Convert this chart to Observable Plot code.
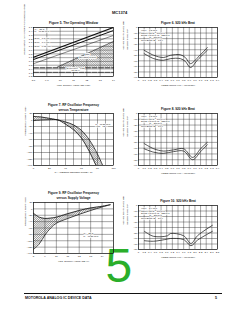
<!DOCTYPE html>
<html><head><meta charset="utf-8">
<script src="https://cdn.jsdelivr.net/npm/d3@7"></script>
<script src="https://cdn.jsdelivr.net/npm/@observablehq/plot@0.6"></script>
<style>
html,body{margin:0;padding:0;background:#fff;}
#page{position:relative;width:240px;height:310px;overflow:hidden;background:#fff;font-family:"Liberation Sans",Arial,sans-serif;color:#111;}
.t{position:absolute;white-space:nowrap;}
</style></head><body>
<div id="page">
  <div class="t" style="left:112px;top:9.5px;font-size:4px;font-weight:bold;">MC1374</div>
  <div class="t" style="left:105.5px;top:241.5px;font-size:48px;font-weight:normal;color:#2aae2a;line-height:48px;">5</div>
  <div style="position:absolute;left:24px;top:292.5px;width:198px;height:0.8px;background:#111;"></div>
  <div class="t" style="left:25px;top:295.5px;font-size:3.6px;font-weight:bold;">MOTOROLA ANALOG IC DEVICE DATA</div>
  <div class="t" style="left:215px;top:295.5px;font-size:3.6px;font-weight:bold;">5</div>
</div>
<svg width="0" height="0" style="position:absolute;left:0;top:0">
  <defs>
    <pattern id="hatch" patternUnits="userSpaceOnUse" width="1.5" height="1.5" patternTransform="rotate(45)">
      <line x1="0.4" y1="0" x2="0.4" y2="1.5" stroke="#333" stroke-width="0.4"/>
    </pattern>
    <pattern id="hatch2" patternUnits="userSpaceOnUse" width="1.3" height="1.3" patternTransform="rotate(-45)">
      <line x1="0.4" y1="0" x2="0.4" y2="1.3" stroke="#555" stroke-width="0.35"/>
    </pattern>
  </defs>
</svg>
<script>
// ---------- Figure 5: The Operating Window ----------
const fig5XTicks = [8, 9, 10, 11, 12, 13, 14];
const fig5XLabels = ["8.0", "9.0", "10", "11", "12", "13", "14"];
const fig5YTicks = [0.2, 0.3, 0.4, 0.5, 0.6, 0.7, 0.8, 0.9, 1.0, 1.1, 1.2, 1.3, 1.4, 1.5];
const fig5YLabels = ["0.2", "0.3", "0.4", "0.5", "0.6", "0.7", "0.8", "0.9", "1.0", "1.1", "1.2", "1.3", "1.4", "1.5"];
const fig5Vcc = [8, 14];
const fig5Line1 = [0.71, 1.5];
const fig5Line2 = [0.65, 1.42];
const fig5Line3 = [0.54, 1.29];
const fig5HatchVcc = [9.8, 14];
const fig5HatchTop = [0.45, 1.13];
const fig5HatchBottom = [0.43, 0.43];
const fig5SyncVcc = [8, 14];
const fig5Sync1 = [0.43, 0.43];
const fig5Sync2 = [0.31, 0.31];

// ---------- Beat charts shared ticks ----------
const beatXTicks = [0, 0.1, 0.2, 0.3, 0.4, 0.5, 0.6, 0.7, 0.8, 0.9, 1.0, 1.1, 1.2, 1.3, 1.4];
const beatXLabels = ["0", "0.1", "0.2", "0.3", "0.4", "0.5", "0.6", "0.7", "0.8", "0.9", "1.0", "1.1", "1.2", "1.3", "1.4"];
const beatYTicks = [0, -10, -20, -30, -40, -50, -60, -70, -80, -90];
const beatYLabels = ["0", "–10", "–20", "–30", "–40", "–50", "–60", "–70", "–80", "–90"];

// ---------- Figure 6: 920 kHz Beat ----------
const fig6X = [0.1, 0.27, 0.44, 0.57, 0.74, 0.83, 0.92, 1.05, 1.22];
const fig6Upper = [-41, -50, -54, -50, -49, -54, -65, -54, -36];
const fig6Lower = [-47, -56, -59, -56, -56, -61, -72, -58, -41];
const fig6Notes = "Video = 1.2 MHz\nCarrier (Ch 3) = 160 kHz\nSound 4.5 MHz: fs = 225 kHz\n\u00a0\u00a0\u00a0\u00a0\u00a0\u00a0\u00a0\u00a0\u00a0\u00a0\u00a0\u00a0\u00a0\u00a0fc = 500 kHz\nColor Burst VB = 1.5 V";

// ---------- Figure 8: 920 kHz Beat ----------
const fig8X = [0.1, 0.27, 0.44, 0.62, 0.8, 0.96, 1.1, 1.22];
const fig8Upper = [-52, -61, -65, -63, -61, -76, -61, -50];
const fig8Lower = [-61, -67, -69, -66, -65, -80, -66, -54];
const fig8Notes = "Video = 1.2 MHz\nCarrier (Ch 3) = 160 kHz\nSound 4.5 MHz: fs = 225 kHz\n\u00a0\u00a0\u00a0\u00a0\u00a0\u00a0\u00a0\u00a0\u00a0\u00a0\u00a0\u00a0\u00a0\u00a0fc = 280 kHz\nColor Burst VB = 1.0 V";

// ---------- Figure 10: 920 kHz Beat ----------
const fig10XTicks = [0, 0.2, 0.4, 0.6, 0.8, 1.0, 1.2, 1.4, 1.6, 1.8, 2.0, 2.2, 2.4, 2.6, 2.8];
const fig10XLabels = ["0", "0.2", "0.4", "0.6", "0.8", "1.0", "1.2", "1.4", "1.6", "1.8", "2.0", "2.2", "2.4", "2.6", "2.8"];
const fig10YTicks = [0, -10, -20, -30, -40, -50, -60, -70, -80];
const fig10YLabels = ["0", "–10", "–20", "–30", "–40", "–50", "–60", "–70", "–80"];
const fig10X = [0.21, 0.53, 1.03, 1.13, 1.6, 1.86, 2.09, 2.62];
const fig10Upper = [-47, -56, -55, -51, -55, -69, -55, -36];
const fig10Lower = [-64, -65, -61, -60, -62, -73, -63, -47];
const fig10Notes = "Video = 2.4 MHz\nCarrier (Ch 3) = 160 kHz\nSound 4.5 MHz: fs = 225 kHz\n\u00a0\u00a0\u00a0\u00a0\u00a0\u00a0\u00a0\u00a0\u00a0\u00a0\u00a0\u00a0\u00a0\u00a0fc = 280 kHz\nColor Burst VB = 2.0 V";

// ---------- Figure 7: RF Oscillator Frequency vs Temperature ----------
const fig7XTicks = [0, 20, 40, 60, 80, 100];
const fig7XGrid = [0, 10, 20, 30, 40, 50, 60, 70, 80, 90, 100];
const fig7YTicks = [20, 0, -20, -40, -60, -80, -100, -120, -140];
const fig7YLabels = ["20", "0", "–20", "–40", "–60", "–80", "–100", "–120", "–140"];
const fig7Temp = [0, 10, 20, 30, 40, 50, 60, 70, 80, 90];
const fig7Upper = [11, 9, 5, 0.5, -6, -15, -32, -62, -105, -160];
const fig7Lower = [-2, 0, 1, 0.5, -13, -30, -56, -98, -150, -210];

// ---------- Figure 9: RF Oscillator Frequency vs Supply Voltage ----------
const fig9XTicks = [8, 9, 10, 11, 12, 13, 14];
const fig9XGrid = [8, 9, 10, 11, 12, 13, 14, 15];
const fig9Vcc = [8, 8.5, 9, 9.5, 10, 11, 12, 13, 14, 14.7];
const fig9Upper = [-14, -26, -30, -29, -26, -15, -5, 3, 8, 13];
const fig9Lower = [-127, -110, -82, -60, -45, -30, -17, -5, 6, 13];

// ---------- helpers ----------
const FONT = '"Liberation Sans", Arial, Helvetica, sans-serif';
const page = document.getElementById("page");
const zip = (xs, a, b) => xs.map((x, i) => ({x, a: a[i], b: b ? b[i] : undefined}));
const lbl = (ticks, labels) => d => labels[ticks.indexOf(d)];

function chart(c) {
  const [fl, ft, fr, fb] = c.frame;
  const [sl, st, sr, sb] = c.svg;
  const svg = Plot.plot({
    width: sr - sl, height: sb - st,
    marginLeft: fl - sl, marginTop: ft - st, marginRight: sr - fr, marginBottom: sb - fb,
    style: {fontFamily: FONT, fontSize: "2.4px", background: "transparent", color: "#111", overflow: "visible"},
    x: {domain: c.xDomain},
    y: {domain: c.yDomain},
    marks: [
      ...(c.under || []),
      Plot.gridX({ticks: c.xGrid, stroke: "#222", strokeOpacity: 1, strokeWidth: 0.4}),
      Plot.gridY({ticks: c.yGrid, stroke: "#222", strokeOpacity: 1, strokeWidth: 0.4}),
      ...c.marks,
      Plot.frame({stroke: "#111", strokeWidth: 0.6}),
      Plot.axisX({ticks: c.xTicks, tickSize: 0, tickPadding: c.xPad ?? 1.5, fontSize: 2.5, tickFormat: c.xFormat, label: null}),
      Plot.axisY({ticks: c.yTicks, tickSize: 0, tickPadding: 1.2, fontSize: 2.5, tickFormat: c.yFormat, label: null}),
      Plot.text([c.title], {frameAnchor: "top", dy: c.titleDy, lineAnchor: "bottom", fontWeight: "bold", fontSize: 3.2, lineHeight: 1.45, text: d => d}),
      Plot.text([c.xTitle], {frameAnchor: "bottom", dy: c.xTitleDy, fontSize: 2.4, text: d => d}),
      ...c.yTitles.map(([t, dx, dy]) => Plot.text([t], {frameAnchor: "left", dx, dy, rotate: -90, fontSize: 2.4, text: d => d}))
    ]
  });
  svg.style.position = "absolute";
  svg.style.left = sl + "px";
  svg.style.top = st + "px";
  svg.style.maxWidth = "none";
  page.appendChild(svg);
}

const curve = (data, w) => Plot.line(data, {x: "x", y: "a", stroke: "#111", strokeWidth: w, curve: "catmull-rom", clip: true});

// Figure 5
chart({
  frame: [33, 27, 113, 76], svg: [14, 12, 118, 92],
  xDomain: [8, 14], yDomain: [0.2, 1.5],
  xGrid: fig5XTicks, yGrid: fig5YTicks, xTicks: fig5XTicks, yTicks: fig5YTicks,
  xFormat: lbl(fig5XTicks, fig5XLabels), yFormat: lbl(fig5YTicks, fig5YLabels),
  xPad: 3,
  title: "Figure 5. The Operating Window", titleDy: -4,
  xTitle: "VCC, SUPPLY VOLTAGE (Vdc)", xTitleDy: 9.5,
  yTitles: [["VIDEO INPUT (Vpp) FOR 87.5% MODULATION", -9.5, 3]],
  under: [
    Plot.areaY(zip(fig5HatchVcc, fig5HatchTop, fig5HatchBottom), {x: "x", y1: "b", y2: "a", fill: "url(#hatch2)"})
  ],
  marks: [
    Plot.line(zip(fig5HatchVcc, fig5HatchTop), {x: "x", y: "a", stroke: "#111", strokeWidth: 0.5}),
    curve(zip(fig5Vcc, fig5Line1), 1.2),
    curve(zip(fig5Vcc, fig5Line2), 1.0),
    curve(zip(fig5Vcc, fig5Line3), 0.5),
    Plot.line(zip(fig5SyncVcc, fig5Sync1), {x: "x", y: "a", stroke: "#111", strokeWidth: 0.9, strokeDasharray: "5,1.5"}),
    Plot.line(zip(fig5SyncVcc, fig5Sync2), {x: "x", y: "a", stroke: "#111", strokeWidth: 0.7, strokeDasharray: "5,1.5"}),
    Plot.text(["TA = 25°C\nfo = 61.25 MHz"], {frameAnchor: "top-left", dx: 1, dy: 1, lineAnchor: "top", textAnchor: "start", fontSize: 2.2, lineHeight: 1.05, stroke: "white", strokeWidth: 1.2, fill: "#111", text: d => d}),
    Plot.text(["Sync = 1.5 Vpp\nSync = 1.0 Vpp\nSync = 0.75 Vpp"], {frameAnchor: "top-left", dx: 1, dy: 9, lineAnchor: "top", textAnchor: "start", fontSize: 2.2, lineHeight: 1.7, stroke: "white", strokeWidth: 1.2, fill: "#111", text: d => d}),
    Plot.text(["Safe\nOperating Region"], {frameAnchor: "top-left", dx: 54, dy: 26, lineAnchor: "top", textAnchor: "middle", fontSize: 2.2, lineHeight: 1.1, stroke: "white", strokeWidth: 1.6, fill: "#111", text: d => d}),
    Plot.text(["Sync/Video = 0.33\n(at 12 V)"], {frameAnchor: "top-left", dx: 42, dy: 39.5, lineAnchor: "top", textAnchor: "middle", fontSize: 2.2, lineHeight: 1.1, stroke: "white", strokeWidth: 1.6, fill: "#111", text: d => d})
  ]
});

// Beat charts
function beat(frame, svgBox, title, xTicks, xLabels, xMax, yTicks, yLabels, yMin, xs, up, lo, notes) {
  chart({
    frame, svg: svgBox,
    xDomain: [0, xMax], yDomain: [yMin, 0],
    xGrid: xTicks, yGrid: yTicks, xTicks, yTicks,
    xFormat: lbl(xTicks, xLabels), yFormat: lbl(yTicks, yLabels),
    xPad: 1.8,
    title, titleDy: -3.5,
    xTitle: "VIDEO INPUT (Vin – Vsync(dc))", xTitleDy: 8.5,
    yTitles: [["920 kHz BEAT LEVEL (dB)", -15.5, -3], ["BELOW SYNC TIP", -11, -3]],
    marks: [
      curve(zip(xs, up), 0.7),
      curve(zip(xs, lo), 0.7),
      Plot.text([notes], {frameAnchor: "top-left", dx: 2.5, dy: 1.8, lineAnchor: "top", textAnchor: "start", fontSize: 2.2, lineHeight: 1.12, stroke: "white", strokeWidth: 1.2, fill: "#111", text: d => d})
    ]
  });
}
beat([138, 27, 217, 77], [116, 12, 222, 92], "Figure 6. 920 kHz Beat", beatXTicks, beatXLabels, 1.4, beatYTicks, beatYLabels, -90, fig6X, fig6Upper, fig6Lower, fig6Notes);
beat([138, 113, 217, 165], [116, 98, 222, 180], "Figure 8. 920 kHz Beat", beatXTicks, beatXLabels, 1.4, beatYTicks, beatYLabels, -90, fig8X, fig8Upper, fig8Lower, fig8Notes);
beat([138, 205, 217, 249], [116, 190, 222, 266], "Figure 10. 920 kHz Beat", fig10XTicks, fig10XLabels, 2.8, fig10YTicks, fig10YLabels, -80, fig10X, fig10Upper, fig10Lower, fig10Notes);

// Figure 7
chart({
  frame: [33, 113, 113, 165], svg: [14, 94, 118, 180],
  xDomain: [0, 100], yDomain: [-140, 20],
  xGrid: fig7XGrid, yGrid: fig7YTicks, xTicks: fig7XTicks, yTicks: fig7YTicks,
  xFormat: d => String(d), yFormat: lbl(fig7YTicks, fig7YLabels),
  title: "Figure 7. RF Oscillator Frequency\nversus Temperature", titleDy: -3,
  xTitle: "TA, AMBIENT TEMPERATURE (°C)", xTitleDy: 7.5,
  yTitles: [["FREQUENCY SHIFT (kHz)", -8, -4]],
  under: [
    Plot.areaY(zip(fig7Temp, fig7Upper, fig7Lower), {x: "x", y1: "b", y2: "a", fill: "url(#hatch)", clip: true})
  ],
  marks: [
    curve(zip(fig7Temp, fig7Upper), 0.8),
    curve(zip(fig7Temp, fig7Lower), 0.8),
    Plot.text(["fo = 61.25 MHz\nVCC = 12 V"], {frameAnchor: "top-left", dx: 62, dy: 9.5, lineAnchor: "top", textAnchor: "start", fontSize: 2.2, lineHeight: 1.15, stroke: "white", strokeWidth: 1.2, fill: "#111", text: d => d})
  ]
});

// Figure 9
chart({
  frame: [33, 202, 113, 253], svg: [14, 182, 118, 268],
  xDomain: [8, 15], yDomain: [-140, 20],
  xGrid: fig9XGrid, yGrid: fig7YTicks, xTicks: fig9XTicks, yTicks: fig7YTicks,
  xFormat: d => String(d), yFormat: lbl(fig7YTicks, fig7YLabels),
  title: "Figure 9. RF Oscillator Frequency\nversus Supply Voltage", titleDy: -4,
  xTitle: "VCC, SUPPLY VOLTAGE (V)", xTitleDy: 8,
  yTitles: [["FREQUENCY SHIFT (kHz)", -8, -2]],
  under: [
    Plot.areaY(zip(fig9Vcc, fig9Upper, fig9Lower), {x: "x", y1: "b", y2: "a", fill: "url(#hatch)", clip: true})
  ],
  marks: [
    curve(zip(fig9Vcc, fig9Upper), 0.8),
    curve(zip(fig9Vcc, fig9Lower), 0.8),
    Plot.text(["TA = 25°C\nfo = 61.25 MHz"], {frameAnchor: "top-left", dx: 50, dy: 30, lineAnchor: "top", textAnchor: "start", fontSize: 2.2, lineHeight: 1.15, stroke: "white", strokeWidth: 1.2, fill: "#111", text: d => d})
  ]
});
</script>
</body></html>
